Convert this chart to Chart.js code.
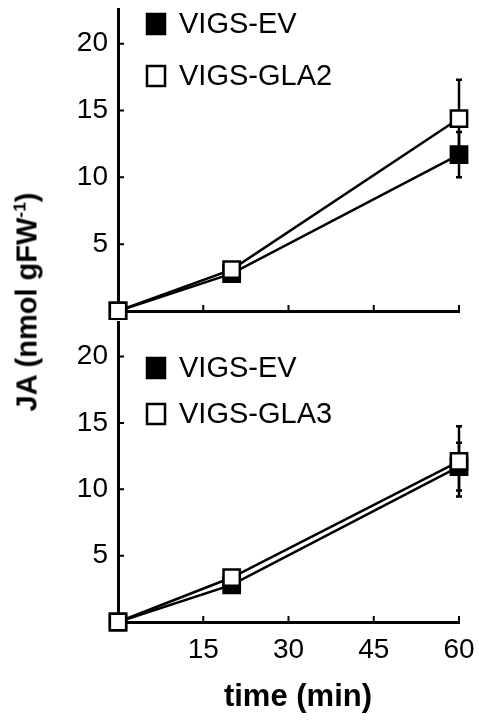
<!DOCTYPE html>
<html>
<head>
<meta charset="utf-8">
<script src="https://cdn.jsdelivr.net/npm/chart.js@4.4.0/dist/chart.umd.min.js"></script>
<style>
    body { margin: 0; background: #fff; width: 479px; height: 720px; position: relative; overflow: hidden;
           font-family: "Liberation Sans", Arial, sans-serif; color: #000; }
    #topChart { position: absolute; left: 0; top: 0; }
    #bottomChart { position: absolute; left: 0; top: 312px; }
    #yTitle { position: absolute; left: 27px; top: 302px; transform: translate(-50%, -50%) rotate(-90deg);
              font-weight: bold; font-size: 29px; white-space: nowrap; line-height: 1; }
    #yTitle span { font-size: 60%; vertical-align: super; line-height: 0; }
    #xTitle { position: absolute; left: 298px; top: 695px; transform: translate(-50%, -50%);
              font-weight: bold; font-size: 31px; white-space: nowrap; line-height: 1; }
</style>
</head>
<body>
<canvas id="topChart" width="479" height="320"></canvas>
<canvas id="bottomChart" width="479" height="408"></canvas>
<div id="yTitle">JA (nmol gFW<span>-1</span>)</div>
<div id="xTitle">time (min)</div>
<script>
// JA time course, two VIGS panels

const timePoints = [0, 20, 60];
const xTicks = [15, 30, 45, 60];
const yTicks = [5, 10, 15, 20];

// top panel
const evTop = [0, 2.8, 11.7];
const evTopErr = [0, 0.3, 1.7];
const gla2 = [0, 3.1, 14.4];
const gla2Err = [0, 0.3, 2.9];

// bottom panel
const evBottom = [0, 2.8, 11.7];
const evBottomErr = [0, 0.3, 1.8];
const gla3 = [0, 3.35, 12.1];
const gla3Err = [0, 0.3, 2.65];

const FONT = '"Liberation Sans", Arial, sans-serif';

// error bars under the markers
const errorBars = {
    id: 'errorBars',
    beforeDatasetsDraw(chart) {
        const ctx = chart.ctx;
        const xs = chart.scales.x;
        const ys = chart.scales.y;
        ctx.save();
        ctx.strokeStyle = '#000';
        ctx.lineWidth = 2.5;
        chart.data.datasets.forEach(ds => {
            ds.data.forEach((p, i) => {
                const err = ds.errors[i];
                if (!err) return;
                const px = xs.getPixelForValue(p.x);
                const top = ys.getPixelForValue(p.y + err);
                const bot = ys.getPixelForValue(p.y - err);
                ctx.beginPath();
                ctx.moveTo(px, top);
                ctx.lineTo(px, bot);
                ctx.moveTo(px - 3, top);
                ctx.lineTo(px + 3, top);
                ctx.moveTo(px - 3, bot);
                ctx.lineTo(px + 3, bot);
                ctx.stroke();
            });
        });
        ctx.restore();
    }
};

// tick marks pointing into the plot
const innerTicks = {
    id: 'innerTicks',
    beforeDatasetsDraw(chart) {
        const ctx = chart.ctx;
        const area = chart.chartArea;
        const xs = chart.scales.x;
        const ys = chart.scales.y;
        ctx.save();
        ctx.strokeStyle = '#000';
        ctx.lineWidth = 2;
        ctx.beginPath();
        xs.ticks.forEach(t => {
            const px = xs.getPixelForValue(t.value);
            ctx.moveTo(px, area.bottom);
            ctx.lineTo(px, area.bottom - 6);
        });
        ys.ticks.forEach(t => {
            const py = ys.getPixelForValue(t.value);
            ctx.moveTo(area.left, py);
            ctx.lineTo(area.left + 6, py);
        });
        ctx.stroke();
        ctx.restore();
    }
};

// legend with square swatches inside the plot
const squareLegend = {
    id: 'squareLegend',
    afterDraw(chart, args, opts) {
        const ctx = chart.ctx;
        ctx.save();
        chart.data.datasets.forEach((ds, i) => {
            const cy = opts.rows[i];
            ctx.fillStyle = ds.pointBackgroundColor;
            ctx.strokeStyle = '#000';
            ctx.lineWidth = 2.5;
            ctx.fillRect(opts.x, cy - 10, 18, 20);
            ctx.strokeRect(opts.x, cy - 10, 18, 20);
            ctx.fillStyle = '#000';
            ctx.font = '29px ' + FONT;
            ctx.textBaseline = 'middle';
            ctx.fillText(ds.label, opts.textX, cy + 1);
        });
        ctx.restore();
    }
};

function makeSeries(label, values, errors, fill, order) {
    return {
        label: label,
        data: timePoints.map((t, i) => ({ x: t, y: values[i] })),
        errors: errors,
        borderColor: '#000',
        borderWidth: 2.5,
        pointStyle: 'rect',
        pointRadius: 11.5,
        pointBorderWidth: 2.5,
        pointBorderColor: '#000',
        pointBackgroundColor: fill,
        backgroundColor: fill,
        tension: 0,
        clip: false,
        order: order
    };
}

function makeChart(id, datasets, opts) {
    return new Chart(document.getElementById(id), {
        type: 'line',
        data: { datasets: datasets },
        options: {
            responsive: false,
            animation: false,
            events: [],
            layout: { autoPadding: false, padding: { top: opts.padTop, right: 20, left: 0, bottom: 0 } },
            plugins: {
                legend: { display: false },
                tooltip: { enabled: false },
                squareLegend: { x: 147, textX: 179, rows: opts.legendRows }
            },
            scales: {
                x: {
                    type: 'linear',
                    min: 0,
                    max: 60,
                    afterBuildTicks: s => { s.ticks = xTicks.map(v => ({ value: v })); },
                    afterFit: s => { s.height = opts.xHeight; s.paddingLeft = 0; s.paddingRight = 0; },
                    grid: { display: false, drawTicks: false },
                    border: { display: true, color: '#000', width: 3 },
                    ticks: { display: opts.xLabels, color: '#000', padding: 11, maxRotation: 0,
                             font: { family: FONT, size: 28 } }
                },
                y: {
                    type: 'linear',
                    min: 0,
                    max: 22.6,
                    afterBuildTicks: s => { s.ticks = yTicks.map(v => ({ value: v })); },
                    afterFit: s => { s.width = 118; s.paddingTop = 0; s.paddingBottom = 0; },
                    grid: { display: false, drawTicks: false },
                    border: { display: true, color: '#000', width: 3 },
                    ticks: { color: '#000', padding: 10, font: { family: FONT, size: 28 } }
                }
            }
        },
        plugins: [innerTicks, errorBars, squareLegend]
    });
}

makeChart('topChart', [
    makeSeries('VIGS-EV', evTop, evTopErr, '#000', 2),
    makeSeries('VIGS-GLA2', gla2, gla2Err, '#fff', 1)
], { padTop: 9, xHeight: 9, xLabels: false, legendRows: [24, 76] });

makeChart('bottomChart', [
    makeSeries('VIGS-EV', evBottom, evBottomErr, '#000', 2),
    makeSeries('VIGS-GLA3', gla3, gla3Err, '#fff', 1)
], { padTop: 10, xHeight: 98, xLabels: true, legendRows: [56, 102] });
</script>
</body>
</html>
